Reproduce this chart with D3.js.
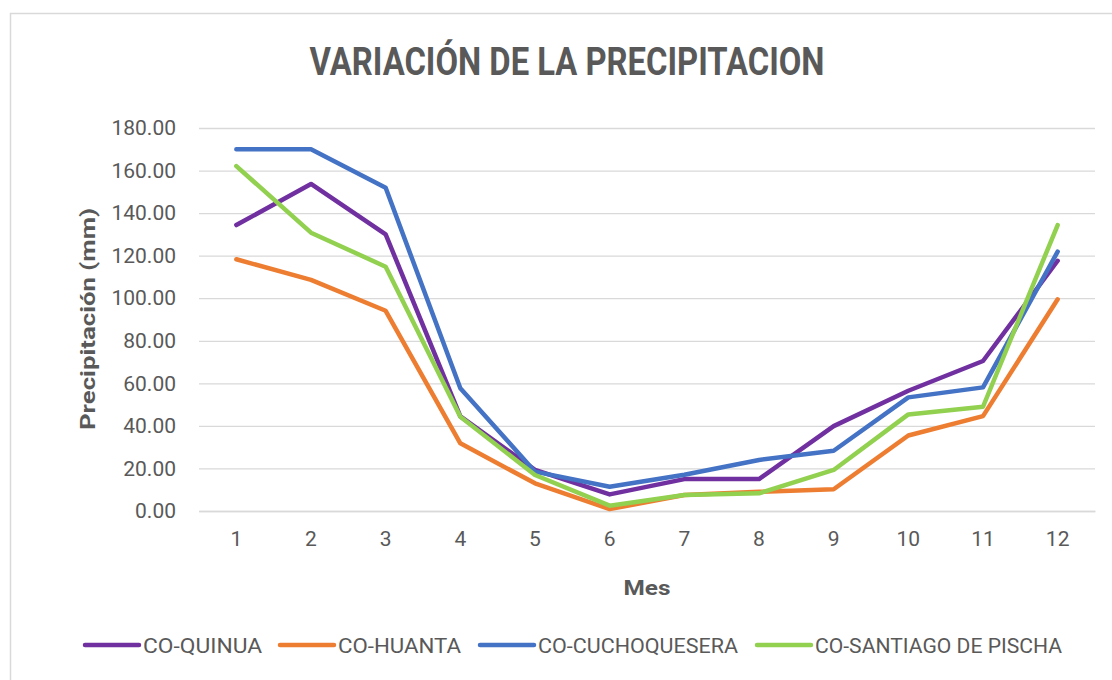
<!DOCTYPE html>
<html>
<head>
<meta charset="utf-8">
<script src="https://cdn.jsdelivr.net/npm/d3@7"></script>
<style>
  html, body { margin: 0; padding: 0; background: #fff; }
  svg { display: block; }
</style>
</head>
<body>
<svg id="chart" width="1112" height="680"></svg>
<script>
const months = ["1","2","3","4","5","6","7","8","9","10","11","12"];
const seriesNames = ["CO-QUINUA","CO-HUANTA","CO-CUCHOQUESERA","CO-SANTIAGO DE PISCHA"];
const quinua       = [134.4,153.7,130.0,44.5,19.3,7.8,15.0,15.0,39.9,56.5,70.5,117.6];
const huanta       = [118.3,108.6,94.1,31.8,13.0,0.9,7.5,9.0,10.2,35.5,44.6,99.5];
const cuchoquesera = [170.0,170.0,151.9,57.7,18.5,11.4,17.0,24.0,28.3,53.4,58.1,121.9];
const santiago     = [162.1,130.8,114.8,44.3,16.9,2.5,7.5,8.3,19.3,45.4,49.0,134.4];
const yTicks = [0,20,40,60,80,100,120,140,160,180];
const colors = ["#7030A0","#ED7D31","#4472C4","#92D050"];
const title = "VARIACIÓN DE LA PRECIPITACION";
const xTitle = "Mes";
const yTitle = "Precipitación (mm)";

const seriesValues = [quinua, huanta, cuchoquesera, santiago];
const FONT = "'Liberation Sans Narrow', Roboto, 'Liberation Sans', sans-serif";
const TXT = "#595959";

const svg = d3.select("#chart");
svg.append("rect").attr("x",10.5).attr("y",13.5).attr("width",1200).attr("height",800)
  .attr("fill","#fff").attr("stroke","#d9d9d9").attr("stroke-width",1.5);

const x = d3.scaleBand().domain(months).range([199,1095]);
const y = d3.scaleLinear().domain([0,180]).range([511,128]);

function fit(sel, w){
  const n = sel.node();
  const len = n.getComputedTextLength();
  if (Math.abs(len - w) > 1) sel.attr("textLength", w).attr("lengthAdjust","spacingAndGlyphs");
}

// gridlines
const yAxis = d3.axisLeft(y).tickValues(yTicks).tickSize(-(1095-199)).tickFormat(d3.format(".2f")).tickPadding(23);
const gy = svg.append("g").attr("transform","translate(199,0)").call(yAxis);
gy.select(".domain").remove();
gy.selectAll(".tick line").attr("stroke","#d9d9d9").attr("stroke-width",1.3);
gy.selectAll(".tick text").attr("fill",TXT).style("font-family",FONT).style("font-size","21px");

const xAxis = d3.axisBottom(x).tickSize(0).tickPadding(20);
const gx = svg.append("g").attr("transform","translate(0,511)").call(xAxis);
gx.select(".domain").attr("stroke","#d9d9d9").attr("stroke-width",1.3);
gx.selectAll(".tick text").attr("fill",TXT).style("font-family",FONT).style("font-size","21px");

// lines
const line = d3.line().x((d,i)=>x(months[i]) + x.bandwidth()/2).y(d=>y(d));
seriesValues.forEach((vals,k)=>{
  svg.append("path").datum(vals).attr("d",line).attr("fill","none")
    .attr("stroke",colors[k]).attr("stroke-width",4.5)
    .attr("stroke-linejoin","round").attr("stroke-linecap","round");
});

// title
const t = svg.append("text").attr("x",567).attr("y",75).attr("text-anchor","middle")
  .attr("fill",TXT).style("font-family",FONT).style("font-weight","bold").style("font-size","38px").text(title);
fit(t, 515);

// axis titles
const xt = svg.append("text").attr("x",647).attr("y",595).attr("text-anchor","middle")
  .attr("fill",TXT).style("font-family",FONT).style("font-weight","bold").style("font-size","21px").text(xTitle);
fit(xt, 47);
const yt = svg.append("text").attr("transform","translate(95,319) rotate(-90)").attr("text-anchor","middle")
  .attr("fill",TXT).style("font-family",FONT).style("font-weight","bold").style("font-size","21px").text(yTitle);
fit(yt, 222);

// legend
const legendX = [85,280,480,757];
const legendW = [119,123,200,247];
seriesNames.forEach((name,k)=>{
  const g = svg.append("g").attr("transform",`translate(${legendX[k]},645)`);
  g.append("line").attr("x1",0).attr("x2",54).attr("y1",0).attr("y2",0)
    .attr("stroke",colors[k]).attr("stroke-width",4.5).attr("stroke-linecap","round");
  const lt = g.append("text").attr("x",58).attr("y",7.5).attr("fill",TXT)
    .style("font-family",FONT).style("font-size","20px").text(name);
  fit(lt, legendW[k]);
});
</script>
</body>
</html>
